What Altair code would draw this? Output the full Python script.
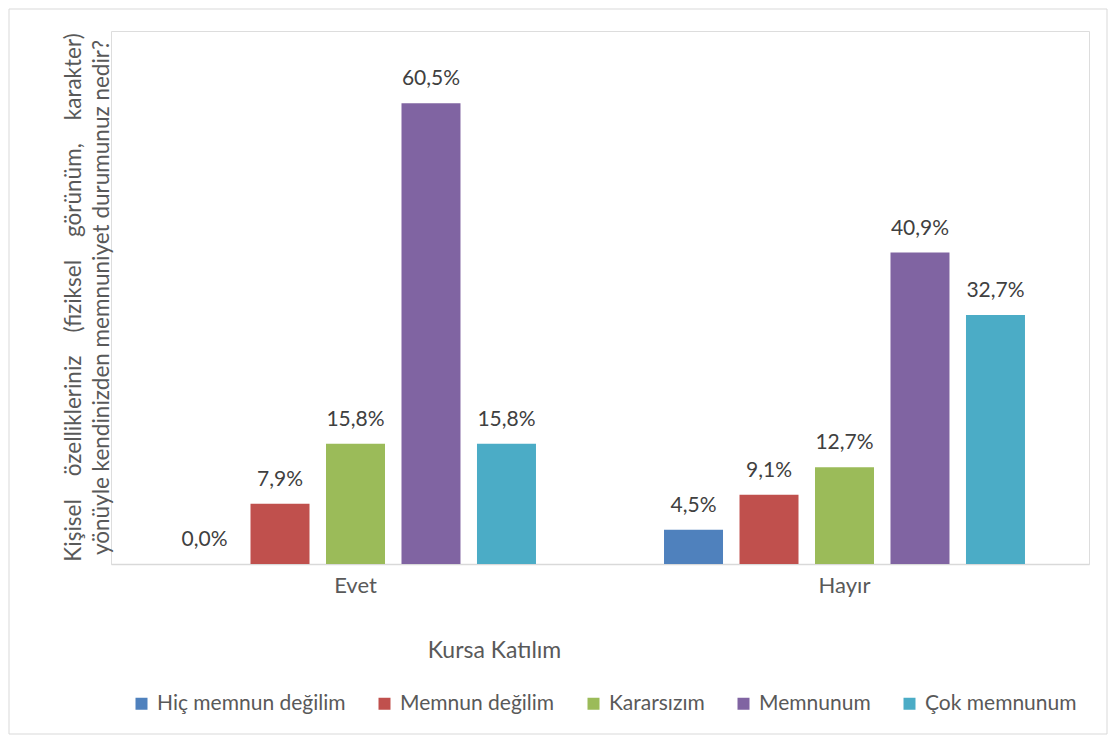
import altair as alt
import pandas as pd

groups = ["Evet", "Hayır"]
series = ["Hiç memnun değilim", "Memnun değilim", "Kararsızım", "Memnunum", "Çok memnunum"]
colors = ["#4F81BD", "#C0504D", "#9BBB59", "#8064A2", "#4BACC6"]
evet_values = [0.0, 7.9, 15.8, 60.5, 15.8]
hayir_values = [4.5, 9.1, 12.7, 40.9, 32.7]

rows = []
for g, vals in zip(groups, [evet_values, hayir_values]):
    for s, v in zip(series, vals):
        rows.append({"grup": g, "seri": s, "deger": v,
                     "etiket": f"{v:.1f}%".replace(".", ",")})
df = pd.DataFrame(rows)

FONT = "Lato"
gap = "\u00a0" * 4
ytitle = [
    f"Kişisel{gap}özellikleriniz{gap}(fiziksel{gap}görünüm,{gap}karakter)",
    "yönüyle kendinizden memnuniyet durumunuz nedir?",
]

x = alt.X("grup:N", sort=groups, scale=alt.Scale(paddingInner=0, paddingOuter=0),
          axis=alt.Axis(title="Kursa Katılım", labelAngle=0, ticks=False,
                        labelPadding=11, labelFontSize=22, labelColor="#595959",
                        labelFont=FONT, domainColor="#D9D9D9", domainWidth=1.5,
                        titleFont=FONT, titleFontSize=23, titleFontWeight="normal",
                        titleColor="#595959", titleX=383, titleY=93,
                        titleAlign="center", titleBaseline="alphabetic"))
xo = alt.XOffset("seri:N", sort=series,
                 scale=alt.Scale(paddingInner=0.2185, paddingOuter=0.848))
y = alt.Y("deger:Q", scale=alt.Scale(domain=[0, 70], nice=False),
          axis=alt.Axis(title=ytitle, labels=False, ticks=False, domain=False,
                        grid=False, titleFont=FONT, titleFontSize=22.5,
                        titleFontWeight="normal", titleColor="#595959",
                        titleLineHeight=28, titleX=-38, titleY=266,
                        titleAngle=-90, titleAlign="center",
                        titleBaseline="middle"))

bars = alt.Chart(df).mark_bar().encode(
    x=x, xOffset=xo, y=y,
    color=alt.Color("seri:N", sort=series,
                    scale=alt.Scale(domain=series, range=colors),
                    legend=alt.Legend(title=None, orient="none", direction="horizontal",
                                      columns=5, legendX=20, legendY=662,
                                      symbolType="square", symbolSize=144,
                                      symbolStrokeWidth=0, labelFont=FONT,
                                      labelFontSize=21, labelColor="#595959",
                                      labelOffset=5, columnPadding=28,
                                      labelLimit=400)),
)

labels = alt.Chart(df).mark_text(baseline="alphabetic", dy=-18, font=FONT,
                                 fontSize=21, color="#404040").encode(
    x=x, xOffset=xo, y=y, text="etiket:N"
)

frame = alt.Chart(alt.Data(values=[{"a": 1}])).mark_rect(
    fill=None, stroke="#D9D9D9", strokeWidth=1
).encode(x=alt.value(-102), x2=alt.value(996), y=alt.value(-22), y2=alt.value(703))

chart = alt.layer(frame, bars, labels).properties(
    width=978, height=533, padding=0
).configure_view(stroke=None).configure(background="white")

chart.save("out.html", embed_options={"renderer": "svg", "actions": False})
